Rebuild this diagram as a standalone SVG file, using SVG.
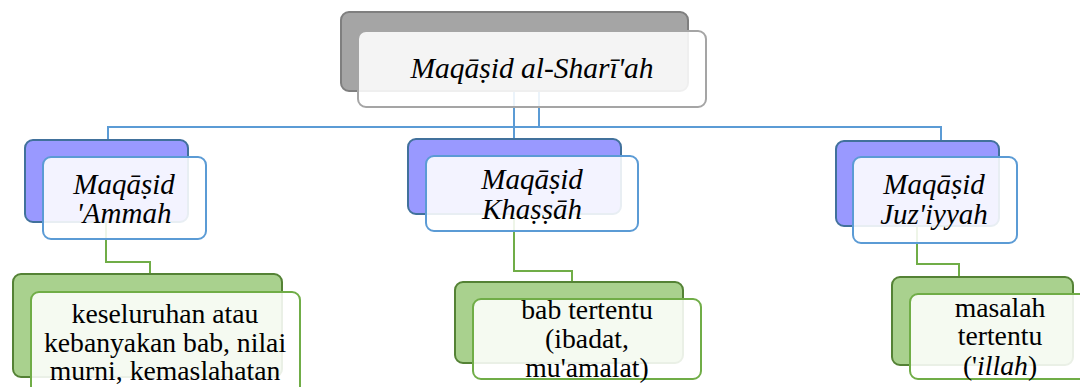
<svg xmlns="http://www.w3.org/2000/svg" width="1080" height="387" viewBox="0 0 1080 387">
<style>
.t{font-family:"Liberation Serif","Times New Roman",serif;fill:#000;text-anchor:middle}
.i{font-style:italic}
.back0{fill:#a5a5a5;stroke:#7f7f7f;stroke-width:2}
.front0{fill:#fff;fill-opacity:0.88;stroke:#a5a5a5;stroke-width:2}
.back1{fill:#9999ff;stroke:#41719c;stroke-width:2}
.front1{fill:#fff;fill-opacity:0.88;stroke:#5b9bd5;stroke-width:2}
.back2{fill:#a9d18e;stroke:#548235;stroke-width:2}
.front2{fill:#fff;fill-opacity:0.88;stroke:#70ad47;stroke-width:2}
.cb{fill:none;stroke:#5b9bd5;stroke-width:2}
.cg{fill:none;stroke:#70ad47;stroke-width:2}
</style>
<g id="connectors">
<path class="cb" d="M539 91V127M514 91V139M108 140V127H941V141"/>
<path class="cg" d="M106 222V262H150V274"/>
<path class="cg" d="M514 214V271H572V282"/>
<path class="cg" d="M917 226V264H959V277"/>
</g>
<g id="root">
<rect class="back0" x="341" y="12" width="347" height="79" rx="8"/>
<rect class="front0" x="358" y="31" width="348" height="76" rx="8"/>
<text class="t i" x="532" y="78" font-size="29.5">Maqāṣid al-Sharī'ah</text>
</g>
<g id="n1">
<rect class="back1" x="25" y="140" width="163" height="82" rx="8"/>
<rect class="front1" x="43" y="157" width="163" height="82" rx="8"/>
<text class="t i" font-size="29"><tspan x="124" y="194">Maqāṣid</tspan><tspan x="124" y="223">'Ammah</tspan></text>
</g>
<g id="n2">
<rect class="back1" x="408" y="139" width="213" height="75" rx="8"/>
<rect class="front1" x="426" y="156" width="212" height="75" rx="8"/>
<text class="t i" font-size="29"><tspan x="532" y="189">Maqāṣid</tspan><tspan x="532" y="219">Khaṣṣāh</tspan></text>
</g>
<g id="n3">
<rect class="back1" x="836" y="141" width="163" height="85" rx="8"/>
<rect class="front1" x="853" y="157" width="164" height="86" rx="8"/>
<text class="t i" font-size="29"><tspan x="934" y="194">Maqāṣid</tspan><tspan x="934" y="224">Juz'iyyah</tspan></text>
</g>
<g id="n4">
<rect class="back2" x="13" y="274" width="269" height="103" rx="8"/>
<rect class="front2" x="31" y="292" width="269" height="103" rx="8"/>
<text class="t" font-size="27.7"><tspan x="165" y="323">keseluruhan atau</tspan><tspan x="165" y="352">kebanyakan bab, nilai</tspan><tspan x="165" y="380">murni, kemaslahatan</tspan></text>
</g>
<g id="n5">
<rect class="back2" x="455" y="282" width="228" height="81" rx="8"/>
<rect class="front2" x="473" y="299" width="228" height="80" rx="8"/>
<text class="t" font-size="27.7"><tspan x="587" y="319">bab tertentu</tspan><tspan x="587" y="348">(ibadat,</tspan><tspan x="587" y="377">mu'amalat)</tspan></text>
</g>
<g id="n6">
<rect class="back2" x="892" y="277" width="181" height="88" rx="8"/>
<rect class="front2" x="910" y="294" width="181" height="85" rx="8"/>
<text class="t" font-size="27.7"><tspan x="1000" y="317">masalah</tspan><tspan x="1000" y="345">tertentu</tspan><tspan x="1000" y="375">('<tspan class="i">illah</tspan>)</tspan></text>
</g>
</svg>
